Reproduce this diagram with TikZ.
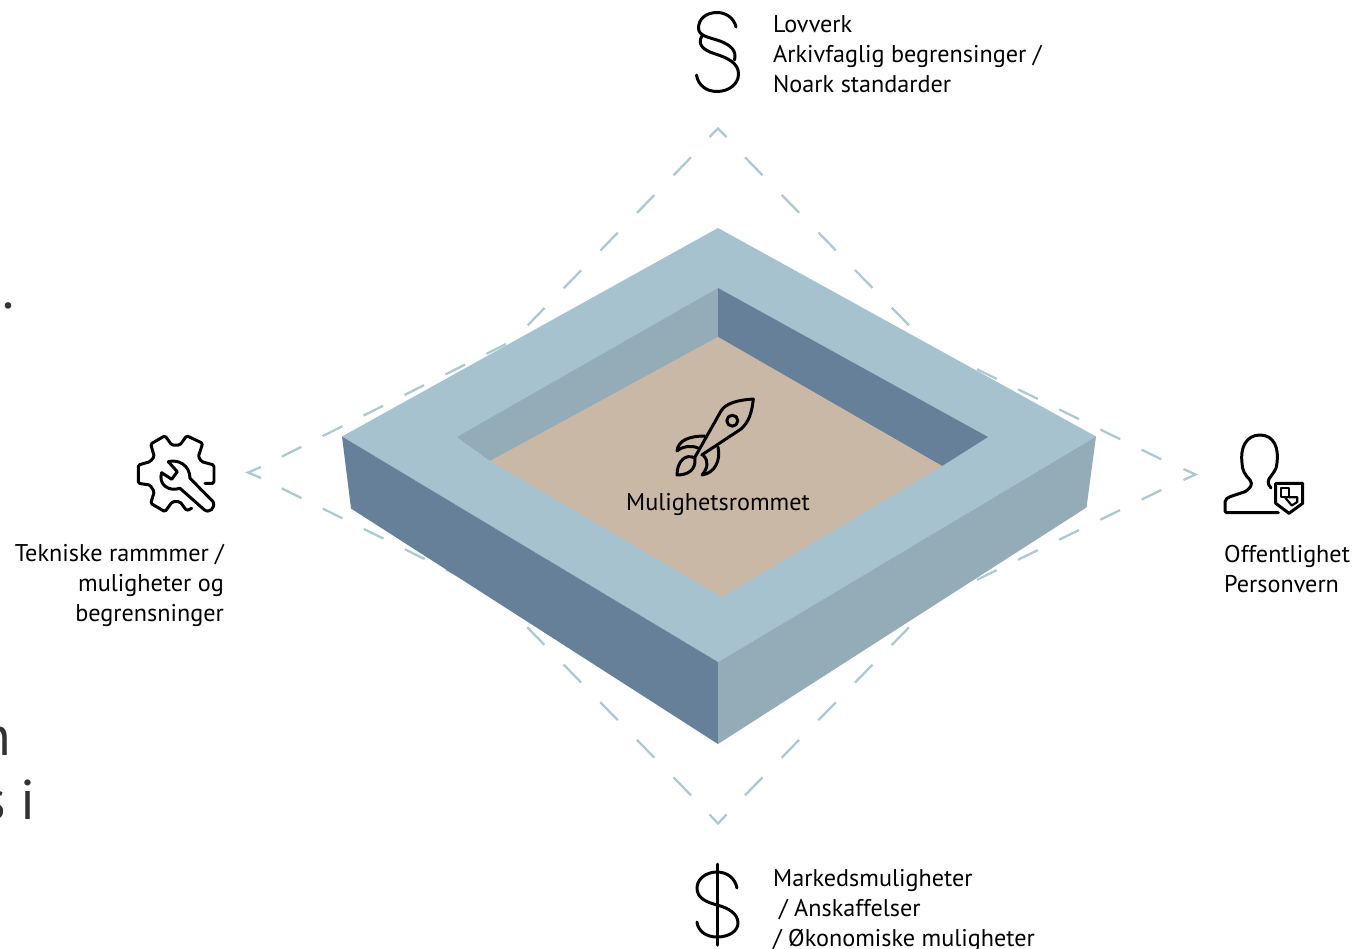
\documentclass[tikz,border=0pt]{standalone}
\usepackage{fontspec}
\setmainfont{PT Sans}
\definecolor{topface}{RGB}{165,194,206}
\definecolor{darkface}{RGB}{102,128,153}
\definecolor{midface}{RGB}{148,172,184}
\definecolor{floorface}{RGB}{201,184,165}
\definecolor{dashcol}{RGB}{172,200,210}
\tikzset{
    steepdash/.style={color=dashcol, line width=0.8mm, dash pattern=on 25pt off 27.5pt},
    flatdash/.style={color=dashcol, line width=0.8mm, dash pattern=on 22pt off 23.8pt},
    chevron/.style={color=dashcol, line width=0.8mm},
    icon/.style={color=black, line width=1.05mm, line join=round, line cap=round},
    label/.style={inner sep=0pt, font=\fontsize{24.2}{30}\selectfont},
    bigtext/.style={inner sep=0pt, text=black!80, font=\fontsize{56}{60}\selectfont},
}
\begin{document}
\begin{tikzpicture}[x=1pt,y=-1pt]
\useasboundingbox (0,0) rectangle (1352,948);
% ends of the dashed lines
\coordinate (nw1) at (691,157.3);   \coordinate (nw2) at (527.7,325.3);
\coordinate (ne1) at (745,157.3);   \coordinate (ne2) at (909,325.3);
\coordinate (sw1) at (691,795.3);   \coordinate (sw2) at (527.3,627.3);
\coordinate (se1) at (745,795.3);   \coordinate (se2) at (909,627.3);
\coordinate (wn1) at (281.7,456.7); \coordinate (wn2) at (508,343);
\coordinate (ws1) at (281.7,488.3); \coordinate (ws2) at (466,579.5);
\coordinate (en1) at (1161.3,459.3); \coordinate (en2) at (975,368.3);
\coordinate (es1) at (1161.3,490);  \coordinate (es2) at (975,580.7);
\foreach \a/\b in {nw1/nw2,ne1/ne2,sw1/sw2,se1/se2} \draw[steepdash] (\a) -- (\b);
\foreach \a/\b in {wn1/wn2,ws1/ws2,en1/en2,es1/es2} \draw[flatdash] (\a) -- (\b);
\draw[chevron] (709.5,137) -- (718,128.5) -- (726.5,137);
\draw[chevron] (709.5,814.5) -- (718,823.5) -- (726.5,814.5);
\draw[chevron] (261,467) -- (248,472.5) -- (261,478);
\draw[chevron] (1183.5,469) -- (1195.5,474.5) -- (1183.5,480);
% the block
\coordinate (topN) at (718,228);    \coordinate (topE) at (1096,436.5);
\coordinate (topS) at (718,662);    \coordinate (topW) at (342,436.5);
\coordinate (botE) at (1086.5,507.5); \coordinate (botS) at (718,744);
\coordinate (botW) at (351,508.5);
\coordinate (holeN) at (718,288);   \coordinate (holeE) at (988,437);
\coordinate (holeS) at (722,597);   \coordinate (holeW) at (457,437);
\coordinate (floorN) at (718,337);  \coordinate (floorE) at (942,466);
\coordinate (floorW) at (490,461);
\fill[topface] (topN) -- (topE) -- (topS) -- (topW) -- cycle;
\fill[darkface] (topW) -- (topS) -- (botS) -- (botW) -- cycle;
\fill[midface] (topE) -- (topS) -- (botS) -- (botE) -- cycle;
\fill[midface] (holeW) -- (holeN) -- (floorN) -- (floorW) -- cycle;
\fill[darkface] (holeN) -- (holeE) -- (floorE) -- (floorN) -- cycle;
\fill[floorface] (floorN) -- (floorE) -- (holeS) -- (floorW) -- cycle;
% rocket
\draw[icon] (695,457) -- (721,411) .. controls (726,403) and (738,400) .. (753.3,399)
    .. controls (752,412) and (749,422) .. (741,429) -- (701.7,455);
\draw[icon] (732.3,420.7) circle (5.5pt);
\draw[icon] (705,436) .. controls (690,436) and (678,440) .. (677,451)
    .. controls (683,446) and (691,445) .. (698,448);
\draw[icon] (718,447) .. controls (721,460) and (715,473) .. (702,475)
    .. controls (708,468) and (709,461) .. (703,455);
\draw[icon] (695,458) .. controls (685,453) and (677,462) .. (677,475)
    .. controls (688,475) and (696,470) .. cycle;
% paragraph sign
\draw[icon] (736,27) .. controls (734,18) and (726,12.5) .. (717,12.5)
    .. controls (706,12.5) and (698.5,19) .. (698.5,28)
    .. controls (698.5,36) and (708,37) .. (720,41)
    .. controls (730,45) and (737,50) .. (734.5,60);
\draw[icon] (702,36) .. controls (697,44) and (703,50) .. (714,53.5)
    .. controls (728,58) and (738.5,63) .. (738.5,74)
    .. controls (738.5,84) and (729,91.5) .. (717,91.5)
    .. controls (706,91.5) and (698,85) .. (696.5,75);
% dollar sign
\draw[icon] (717,864) -- (717,945);
\draw[icon] (737,888) .. controls (735,878) and (727,872) .. (717,872)
    .. controls (706,872) and (697,879) .. (697,888)
    .. controls (697,898) and (706,902) .. (717,905)
    .. controls (729,908) and (738,914) .. (738,923)
    .. controls (738,931) and (729,937) .. (717,937)
    .. controls (706,937) and (698,931) .. (697,922);
% gear and wrench
\draw[icon, rounded corners=1.5pt] (205,483.3) -- (214,483.3) -- (214,465) -- (201.7,461.7) -- (198.3,456.7)
    -- (202.7,443.3) -- (186.7,435.7) -- (180,445) -- (171.7,445) -- (165,435.7) -- (150.7,444)
    -- (154.3,456.7) -- (150,461.7) -- (138.3,465) -- (138.3,483.3) -- (150,485) -- (154.3,491.7)
    -- (150.7,503.3) -- (165,511.7) -- (172.3,501.7) -- (180,501.7) -- (186.7,510.7) -- (191.7,508.3);
\draw[icon] (168.3,461.7) .. controls (178,459) and (190,465) .. (190,478.3) -- (213,501.5)
    .. controls (216,508) and (209,514) .. (204,509.5) -- (180,488.3)
    .. controls (168,492) and (158,484) .. (161.7,472.7) -- (171.7,479.3) -- (177.3,471.7) -- cycle;
% person and shield
\draw[icon, rounded corners=2pt] (1278.3,512.7) -- (1225,512.7) -- (1225,500) -- (1228.3,497.3) -- (1245,491.7);
\draw[icon] (1245,491.7) .. controls (1251,488) and (1253,484) .. (1250,480)
    .. controls (1245,475) and (1242,470) .. (1242,463)
    .. controls (1240,448) and (1246,435) .. (1260,435)
    .. controls (1274,435) and (1279,448) .. (1277,463)
    .. controls (1277,470) and (1272,474) .. (1269,479)
    .. controls (1267,483) and (1269,486) .. (1271,488);
\draw[icon] (1275.7,483.3) -- (1302.7,483.3) -- (1302.7,503.3) -- (1289,513.3) -- (1275.7,503.3) -- cycle;
\draw[icon, line width=0.75mm] (1281,488.3) -- (1289.3,488.3) -- (1289.3,497.3) -- (1281,497.3) -- cycle;
\draw[icon, line width=0.75mm] (1285,497.3) -- (1291.7,505.5) -- (1297.3,502) -- (1297.3,497.3) -- (1289.3,497.3);
% labels
\node[label, anchor=base] (center) at (718,510.5) {Mulighetsrommet};
\node[label, anchor=north west, align=left] (lawtext) at (773,15.5) {Lovverk\\Arkivfaglig begrensinger /\\Noark standarder};
\node[label, anchor=north west, align=left] (markettext) at (773,869.5) {Markedsmuligheter\\\hspace{6pt}/ Anskaffelser\\/ Økonomiske muligheter};
\node[label, anchor=north east, align=right] (techtext) at (224,544.5) {Tekniske rammmer /\\muligheter og\\begrensninger};
\node[label, anchor=north west, align=left] (publictext) at (1224,545.5) {Offentlighet\\Personvern};
% pieces of text cut off at the left edge
\node[bigtext, anchor=base east] (cutdot) at (15,308) {.};
\node[bigtext, anchor=base east] (cutn) at (11,755) {n};
\node[bigtext, anchor=base east] (cuti) at (36,819) {s i};
\end{tikzpicture}
\end{document}
